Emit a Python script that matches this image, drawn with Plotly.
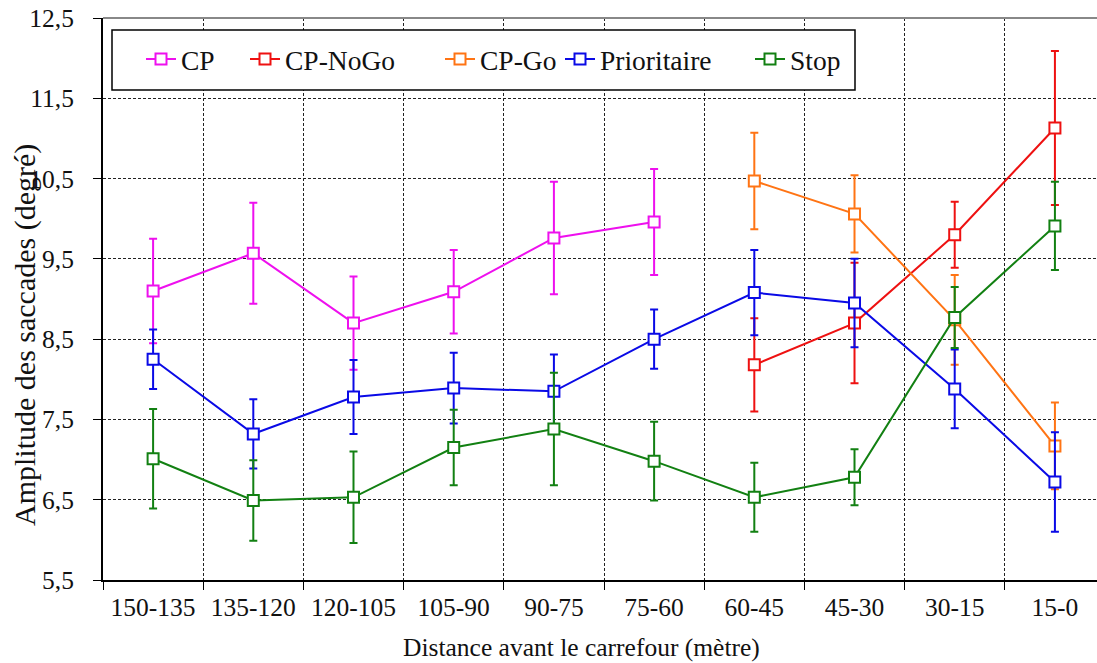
import plotly.graph_objects as go

categories = ["150-135", "135-120", "120-105", "105-90", "90-75", "75-60",
              "60-45", "45-30", "30-15", "15-0"]

cp_x = categories[:6]
cp_y = [9.10, 9.57, 8.70, 9.09, 9.76, 9.96]
cp_err = [0.65, 0.63, 0.58, 0.52, 0.70, 0.66]

nogo_x = categories[6:]
nogo_y = [8.18, 8.70, 9.80, 11.13]
nogo_err = [0.58, 0.75, 0.41, 0.96]

go_x = categories[6:]
go_y = [10.47, 10.06, 8.74, 7.17]
go_err = [0.60, 0.48, 0.56, 0.54]

prio_x = categories
prio_y = [8.25, 7.32, 7.78, 7.89, 7.85, 8.50, 9.08, 8.95, 7.88, 6.72]
prio_err = [0.37, 0.43, 0.46, 0.44, 0.46, 0.37, 0.53, 0.55, 0.49, 0.62]

stop_x = categories
stop_y = [7.01, 6.49, 6.53, 7.15, 7.38, 6.98, 6.53, 6.78, 8.77, 9.91]
stop_err = [0.62, 0.50, 0.57, 0.47, 0.70, 0.49, 0.43, 0.35, 0.38, 0.55]

series = [
    ("CP", cp_x, cp_y, cp_err, "#EE10EE"),
    ("CP-NoGo", nogo_x, nogo_y, nogo_err, "#EE1111"),
    ("CP-Go", go_x, go_y, go_err, "#FF7414"),
    ("Prioritaire", prio_x, prio_y, prio_err, "#0A0AE6"),
    ("Stop", stop_x, stop_y, stop_err, "#128012"),
]

FONT = "Liberation Serif, Times New Roman, serif"
TXT = "#111111"

L, R, T, B = 103, 1097, 18, 580
W, H = 1097, 663
pw, ph = R - L, B - T

def px(x):
    return (x - L) / pw

def py(y):
    return 1 - (y - T) / ph

legend_ids = ["legend", "legend2", "legend3", "legend4", "legend5"]
legend_left = [141, 245, 440, 560, 750]

fig = go.Figure()
for (name, xs, ys, errs, col), lid in zip(series, legend_ids):
    fig.add_trace(go.Scatter(
        x=xs, y=ys, name=name, mode="lines+markers", legend=lid,
        line=dict(color=col, width=2),
        marker=dict(symbol="square", size=11, color="white",
                    line=dict(color=col, width=2)),
        error_y=dict(type="data", array=errs, visible=True,
                     color=col, thickness=2, width=4),
    ))

legends = {}
for lid, lx in zip(legend_ids, legend_left):
    legends[lid] = dict(
        orientation="h", x=px(lx), y=py(59), xanchor="left", yanchor="middle",
        bgcolor="rgba(0,0,0,0)", borderwidth=0,
        font=dict(family=FONT, size=27.5, color=TXT),
    )

fig.update_layout(
    width=W, height=H,
    margin=dict(l=L, r=W - R, t=T, b=H - B),
    paper_bgcolor="white", plot_bgcolor="white",
    separators=",.",
    font=dict(family=FONT, size=25, color=TXT),
    showlegend=True,
    **legends,
    xaxis=dict(
        type="category", categoryorder="array", categoryarray=categories,
        range=[-0.5, 9.42],
        tickson="boundaries", ticks="outside", ticklen=8, tickcolor="black",
        showline=True, linecolor="black", linewidth=2,
        showgrid=True, gridcolor="#222222", gridwidth=1, griddash="3px,2px",
        tickfont=dict(family=FONT, size=25.5, color=TXT),
        ticklabelstandoff=3,
        zeroline=False,
    ),
    yaxis=dict(
        range=[5.5, 12.5], tick0=5.5, dtick=1, tickformat=".1f",
        ticks="outside", ticklen=8, tickcolor="black",
        showline=True, linecolor="black", linewidth=2,
        showgrid=True, gridcolor="#222222", gridwidth=1, griddash="3px,2px",
        tickfont=dict(family=FONT, size=25.5, color=TXT),
        ticklabelstandoff=14,
        zeroline=False,
    ),
    annotations=[
        dict(text="Amplitude des saccades (degré)", textangle=-90,
             xref="paper", yref="paper", x=px(25), y=py(335),
             xanchor="center", yanchor="middle", showarrow=False,
             font=dict(family=FONT, size=30, color=TXT)),
        dict(text="Distance avant le carrefour (mètre)",
             xref="paper", yref="paper", x=px(581), y=py(647),
             xanchor="center", yanchor="middle", showarrow=False,
             font=dict(family=FONT, size=25.5, color=TXT)),
    ],
    shapes=[
        dict(type="line", xref="paper", yref="paper", x0=0, x1=1, y0=1, y1=1,
             line=dict(color="#888888", width=2), layer="above"),
        dict(type="rect", xref="paper", yref="paper",
             x0=px(112), x1=px(855), y0=py(90), y1=py(30),
             line=dict(color="black", width=1.5), fillcolor="white",
             layer="above"),
    ],
)

fig.write_html("out.html",
               config={"displayModeBar": False},
               post_script="document.body.style.margin='0';document.body.style.padding='0';")
